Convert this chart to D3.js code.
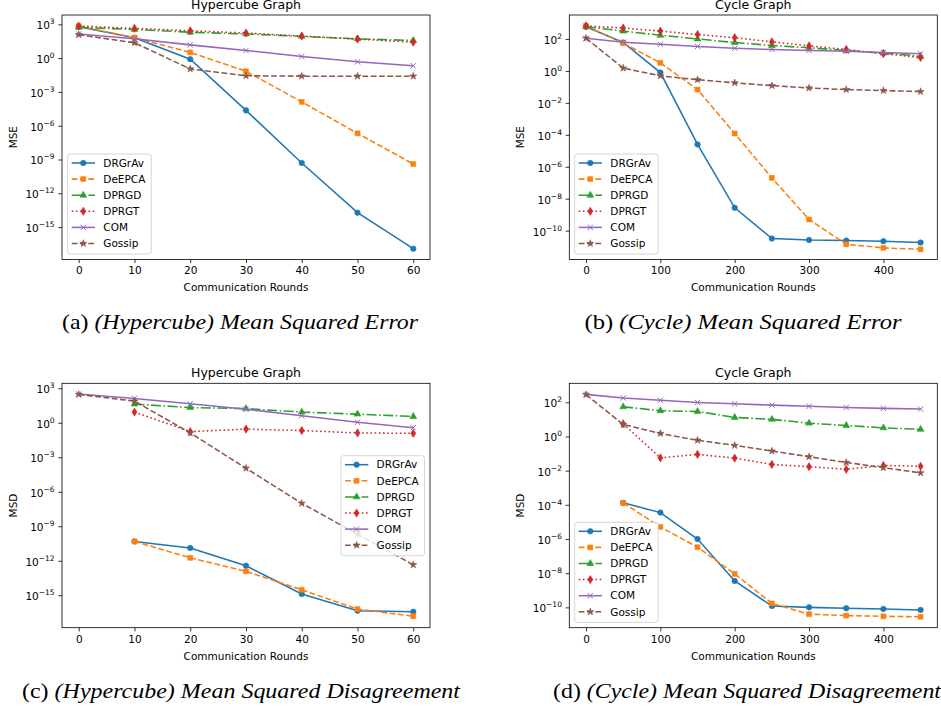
<!DOCTYPE html>
<html>
<head>
<meta charset="utf-8">
<script src="https://cdn.jsdelivr.net/npm/d3@7"></script>
<style>
  body { margin: 0; background: #fff; }
  svg { display: block; }
  text { font-family: "DejaVu Sans", sans-serif; fill: #000; }
  .caption { font-family: "Liberation Serif", "Times New Roman", serif; }
</style>
</head>
<body>
<svg id="chart" width="941" height="709"></svg>
<script>
const methods = ["DRGrAv", "DeEPCA", "DPRGD", "DPRGT", "COM", "Gossip"];
const colors = ["#1f77b4", "#ff7f0e", "#2ca02c", "#d62728", "#9467bd", "#8c564b"];

const roundsHypercube = [0, 10, 20, 30, 40, 50, 60];
const roundsCycle = [0, 50, 100, 150, 200, 250, 300, 350, 400, 450];

const ticksHypercube = [1e3, 1e0, 1e-3, 1e-6, 1e-9, 1e-12, 1e-15];
const ticksCycle = [1e2, 1e0, 1e-2, 1e-4, 1e-6, 1e-8, 1e-10];
const xTicksHypercube = [0, 10, 20, 30, 40, 50, 60];
const xTicksCycle = [0, 100, 200, 300, 400];

// one row per method, in the order of `methods`; null = not plotted
const mseHypercube = [
  [6.2e2, 6.5e1, 8.1e-1, 2.3e-5, 4.9e-10, 1.9e-14, 1.2e-17],
  [7.1e2, 6.5e1, 3.2, 6.9e-2, 1.3e-4, 2.1e-7, 4.0e-10],
  [5.4e2, 3.5e2, 2.0e2, 1.4e2, 8.5e1, 5.2e1, 3.7e1],
  [7.1e2, 4.4e2, 2.7e2, 1.7e2, 9.1e1, 4.9e1, 2.6e1],
  [1.4e2, 5.2e1, 1.5e1, 4.8, 1.4, 4.7e-1, 2.1e-1],
  [1.2e2, 2.3e1, 1.1e-1, 2.7e-2, 2.5e-2, 2.5e-2, 2.5e-2]
];

const mseCycle = [
  [5.8e2, 6.0e1, 7.9e-1, 2.5e-5, 2.7e-9, 3.2e-11, 2.6e-11, 2.4e-11, 2.2e-11, 1.8e-11],
  [6.6e2, 5.5e1, 3.2, 6.8e-2, 1.2e-4, 2.0e-7, 5.0e-10, 1.4e-11, 8.3e-12, 6.8e-12],
  [5.8e2, 3.1e2, 1.7e2, 1.0e2, 6.0e1, 3.9e1, 2.8e1, 1.9e1, 1.3e1, 8.3],
  [6.6e2, 4.8e2, 3.1e2, 1.9e2, 1.2e2, 6.6e1, 3.7e1, 2.2e1, 1.2e1, 6.9],
  [1.1e2, 6.3e1, 4.6e1, 3.4e1, 2.6e1, 2.2e1, 1.9e1, 1.7e1, 1.4e1, 1.2e1],
  [1.1e2, 1.5, 4.9e-1, 2.8e-1, 1.8e-1, 1.2e-1, 8.5e-2, 6.8e-2, 5.9e-2, 5.1e-2]
];

const msdHypercube = [
  [null, 4.8e-11, 1.3e-11, 3.7e-13, 1.3e-15, 4.5e-17, 3.7e-17],
  [null, 4.8e-11, 1.8e-12, 1.2e-13, 3.0e-15, 6.3e-17, 1.5e-17],
  [null, 4.2e1, 2.1e1, 1.7e1, 8.5, 5.6, 3.5],
  [null, 8.5, 1.7e-1, 2.8e-1, 2.1e-1, 1.3e-1, 1.2e-1],
  [3.1e2, 1.3e2, 4.5e1, 1.5e1, 4.1, 1.1, 3.7e-1],
  [2.9e2, 7.6e1, 1.3e-1, 1.1e-4, 9.8e-8, 2.1e-10, 4.5e-13]
];

const msdCycle = [
  [null, 1.3e-4, 3.5e-5, 1.0e-6, 3.5e-9, 1.2e-10, 1.0e-10, 8.9e-11, 8.1e-11, 7.1e-11],
  [null, 1.3e-4, 5.1e-6, 3.3e-7, 9.1e-9, 1.7e-10, 4.0e-11, 3.3e-11, 3.0e-11, 2.8e-11],
  [null, 5.4e1, 3.2e1, 2.9e1, 1.3e1, 1.0e1, 6.0, 4.4, 3.2, 2.6],
  [null, 5.5, 5.6e-2, 8.9e-2, 5.4e-2, 2.3e-2, 1.7e-2, 1.2e-2, 2.0e-2, 1.8e-2],
  [2.9e2, 1.8e2, 1.3e2, 9.8e1, 8.1e1, 6.8e1, 5.8e1, 5.0e1, 4.4e1, 4.0e1],
  [2.8e2, 5.0, 1.5, 6.0e-1, 3.0e-1, 1.4e-1, 6.5e-2, 3.0e-2, 1.5e-2, 7.4e-3]
];

const dashes = [null, "5.8,2.5", "10,2.5,1.6,2.5", "1.6,2.6", null, "5.8,2.5"];
const thinDiamond = { draw(ctx, size) { const h = Math.sqrt(size) * 0.75, w = h * 0.6;
  ctx.moveTo(0, -h); ctx.lineTo(w, 0); ctx.lineTo(0, h); ctx.lineTo(-w, 0); ctx.closePath(); } };
const symbols = [d3.symbolCircle, d3.symbolSquare, d3.symbolTriangle, thinDiamond, d3.symbolX, d3.symbolStar];
const symbolSizes = [24, 24, 20, 30, 20, 16];

const panels = [
  { data: mseHypercube, rounds: roundsHypercube, xTicks: xTicksHypercube, yTicks: ticksHypercube,
    left: 62, top: 15, xDom: [-3, 63], yDom: [-17.87, 3.83], title: "Hypercube Graph", ylabel: "MSE",
    legend: [67.7, 154], caption: ["(a) ", "(Hypercube) Mean Squared Error"], capX: 240, capY: 329, capW: 356 },
  { data: mseCycle, rounds: roundsCycle, xTicks: xTicksCycle, yTicks: ticksCycle,
    left: 569.3, top: 15, xDom: [-22.5, 472.5], yDom: [-11.8, 3.5], title: "Cycle Graph", ylabel: "MSE",
    legend: [574.7, 154], caption: ["(b) ", "(Cycle) Mean Squared Error"], capX: 743, capY: 329, capW: 317 },
  { data: msdHypercube, rounds: roundsHypercube, xTicks: xTicksHypercube, yTicks: ticksHypercube,
    left: 62, top: 383.3, xDom: [-3, 63], yDom: [-17.82, 3.43], title: "Hypercube Graph", ylabel: "MSD",
    legend: [341, 455.7], caption: ["(c) ", "(Hypercube) Mean Squared Disagreement"], capX: 241, capY: 698, capW: 438 },
  { data: msdCycle, rounds: roundsCycle, xTicks: xTicksCycle, yTicks: ticksCycle,
    left: 569.3, top: 383.3, xDom: [-22.5, 472.5], yDom: [-11.19, 3.11], title: "Cycle Graph", ylabel: "MSD",
    legend: [574.7, 522.3], caption: ["(d) ", "(Cycle) Mean Squared Disagreement"], capX: 747, capY: 698, capW: 388 }
];

const W = 368, H = 244.4;
const svg = d3.select("#chart");

function tickLabel(sel, v) {
  const e = Math.round(Math.log10(v));
  sel.append("tspan").text("10");
  sel.append("tspan").attr("dy", -5).attr("font-size", 7.5)
    .text(String(e).replace("-", "\u2212"));
}

panels.forEach(p => {
  const g = svg.append("g").attr("transform", `translate(${p.left},${p.top})`);
  const x = d3.scaleLinear().domain(p.xDom).range([0, W]);
  const y = d3.scaleLog().domain([10 ** p.yDom[0], 10 ** p.yDom[1]]).range([H, 0]);

  // x axis
  const xa = g.append("g").attr("transform", `translate(0,${H})`)
    .call(d3.axisBottom(x).tickValues(p.xTicks).tickSize(3.7).tickPadding(3.7).tickFormat(d3.format("d")));
  xa.select(".domain").remove();
  xa.selectAll("line").attr("stroke", "#000").attr("stroke-width", 0.8);
  xa.selectAll("text").attr("font-size", 10.5).attr("font-family", "DejaVu Sans").attr("fill", "#000");

  // y axis
  const ya = g.append("g").call(d3.axisLeft(y).tickValues(p.yTicks).tickSize(3.7).tickPadding(3.7).tickFormat(""));
  ya.select(".domain").remove();
  ya.selectAll("line").attr("stroke", "#000").attr("stroke-width", 0.8);
  ya.selectAll(".tick").each(function (v) {
    const t = d3.select(this).select("text")
      .attr("font-size", 10.5).attr("font-family", "DejaVu Sans").attr("fill", "#000")
      .attr("dy", "0.42em").text(null);
    tickLabel(t, v);
  });

  g.append("text").attr("x", W / 2).attr("y", H + 32).attr("text-anchor", "middle")
    .attr("font-size", 10.5).text("Communication Rounds");
  g.append("text").attr("transform", `translate(${-49},${H / 2}) rotate(-90)`)
    .attr("text-anchor", "middle").attr("dy", "0.35em").attr("font-size", 10.5).text(p.ylabel);
  g.append("text").attr("x", W / 2).attr("y", -6.5).attr("text-anchor", "middle")
    .attr("font-size", 12.5).text(p.title);

  // series
  const plot = g.append("g");
  p.data.forEach((vals, i) => {
    const pts = p.rounds.map((r, k) => [r, vals[k]]).filter(d => d[1] != null);
    plot.append("path").datum(pts)
      .attr("fill", "none").attr("stroke", colors[i]).attr("stroke-width", 1.55)
      .attr("stroke-dasharray", dashes[i])
      .attr("d", d3.line().x(d => x(d[0])).y(d => y(d[1])));
    plot.selectAll(null).data(pts).join("path")
      .attr("transform", d => `translate(${x(d[0])},${y(d[1])})`)
      .attr("d", d3.symbol(symbols[i], symbolSizes[i]))
      .attr("fill", i === 4 ? "none" : colors[i])
      .attr("stroke", colors[i]).attr("stroke-width", i === 4 ? 1 : 0.6);
  });

  g.append("rect").attr("width", W).attr("height", H)
    .attr("fill", "none").attr("stroke", "#000").attr("stroke-width", 0.8);

  // legend
  const lg = svg.append("g").attr("transform", `translate(${p.legend[0]},${p.legend[1]})`);
  lg.append("rect").attr("width", 83.5).attr("height", 100).attr("rx", 2.5)
    .attr("fill", "#fff").attr("fill-opacity", 0.8).attr("stroke", "#cccccc").attr("stroke-width", 0.8);
  methods.forEach((m, i) => {
    const yy = 9 + i * 16.1;
    lg.append("line").attr("x1", 4).attr("x2", 27.3).attr("y1", yy).attr("y2", yy)
      .attr("stroke", colors[i]).attr("stroke-width", 1.55).attr("stroke-dasharray", dashes[i]);
    lg.append("path").attr("transform", `translate(15.6,${yy})`)
      .attr("d", d3.symbol(symbols[i], symbolSizes[i]))
      .attr("fill", i === 4 ? "none" : colors[i])
      .attr("stroke", colors[i]).attr("stroke-width", i === 4 ? 1 : 0.6);
    lg.append("text").attr("x", 35.6).attr("y", yy).attr("dy", "0.36em")
      .attr("font-size", 10.5).text(m);
  });

  // caption
  const c = svg.append("text").attr("class", "caption").attr("x", p.capX).attr("y", p.capY)
    .attr("text-anchor", "middle").attr("font-size", 22)
    .attr("textLength", p.capW).attr("lengthAdjust", "spacingAndGlyphs");
  c.append("tspan").text(p.caption[0]);
  c.append("tspan").attr("font-style", "italic").text(p.caption[1]);
});
</script>
</body>
</html>
